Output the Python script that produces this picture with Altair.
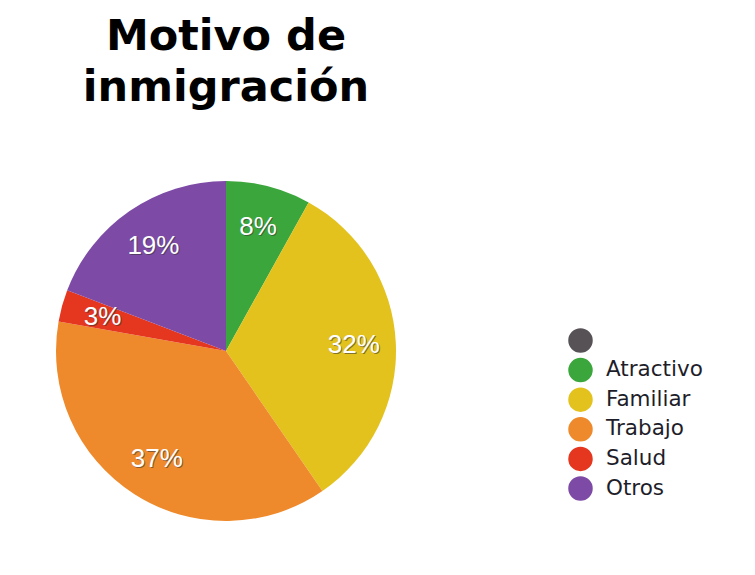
import altair as alt
import pandas as pd

categorias = [" ", "Atractivo", "Familiar", "Trabajo", "Salud", "Otros"]
porcentajes = [0, 8, 32, 37, 3, 19]
colores = ["#575256", "#3ba63c", "#e3c21d", "#ee8a2b", "#e5361f", "#7d4aa6"]

df = pd.DataFrame({
    "motivo": categorias,
    "valor": porcentajes,
    "orden": list(range(len(categorias))),
})
df["etiqueta"] = df["valor"].astype(str) + "%"

CX, CY = 218, 231

base = alt.Chart(df).encode(
    theta=alt.Theta("valor:Q", stack=True),
    order=alt.Order("orden:Q"),
)

arcs = base.mark_arc(radius=170, stroke=None).encode(
    x=alt.value(CX), y=alt.value(CY),
    color=alt.Color(
        "motivo:N",
        scale=alt.Scale(domain=categorias, range=colores),
        legend=alt.Legend(
            title=None, orient="none", legendX=560, legendY=208,
            symbolType="circle", symbolSize=600, symbolStrokeWidth=0,
            labelFont="DejaVu Sans", labelFontSize=21.5, labelColor="#1e1e2a",
            labelOffset=13, rowPadding=4.6,
        ),
    ),
)

shadow = base.transform_filter("datum.valor > 0").mark_text(
    radius=128, font="Liberation Sans", fontSize=26, color="#333333",
    opacity=0.55, dx=1, dy=1,
).encode(x=alt.value(CX), y=alt.value(CY), text="etiqueta:N")

labels = base.transform_filter("datum.valor > 0").mark_text(
    radius=128, font="Liberation Sans", fontSize=26, color="white",
).encode(x=alt.value(CX), y=alt.value(CY), text="etiqueta:N")

chart = alt.layer(arcs, shadow, labels).properties(
    width=739, height=559,
    padding={"top": 8, "left": 0, "right": 0, "bottom": 0},
    autosize=alt.AutoSizeParams(type="fit", contains="padding"),
    title=alt.TitleParams(
        ["Motivo de", "inmigración"], font="DejaVu Sans", fontSize=43,
        fontWeight="bold", color="#000000", anchor="start", align="center",
        dx=218, lineHeight=51, offset=10, frame="group",
    ),
).configure_view(stroke=None)

chart.save("out.html", embed_options={"renderer": "svg", "actions": False})
